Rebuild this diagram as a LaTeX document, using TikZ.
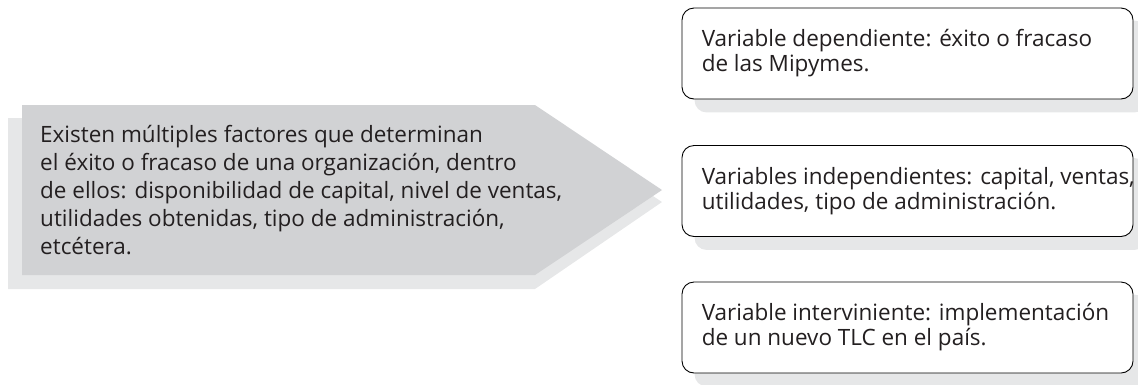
\documentclass[tikz,border=0pt]{standalone}
\usepackage{fontspec}
\setmainfont{Open Sans}
\usetikzlibrary{calc,backgrounds}
\definecolor{arrowgray}{HTML}{D1D2D4}
\definecolor{shadgray}{HTML}{E6E7E8}
\definecolor{txtcol}{HTML}{231F20}
\newlength\myrefw
\AtBeginDocument{%
  \settowidth\myrefw{\fontsize{10pt}{12pt}\selectfont de ellos: disponibilidad de capital, nivel de ventas,}%
  \pgfmathsetmacro\myfsz{10*522/\myrefw}%
}
\tikzset{
  vbox/.style={draw=black, line width=0.9pt, fill=white, rounded corners=12pt,
    minimum width=451pt, minimum height=91pt},
  boxshadow/.style={fill=shadgray, rounded corners=12pt},
  boxtext/.style={anchor=west, align=left, inner sep=0pt,
    font=\fontsize{\myfsz pt}{25pt}\selectfont, text=txtcol},
  bodytext/.style={anchor=west, align=left, inner sep=0pt,
    font=\fontsize{\myfsz pt}{28pt}\selectfont, text=txtcol}
}
\begin{document}
\begin{tikzpicture}[x=1pt,y=-1pt]
\useasboundingbox (0,0) rectangle (1138,384);
% arrow shadow and arrow
\fill[shadgray] (8,118) -- (535,118) -- (662,202) -- (535,289) -- (8,289) -- cycle;
\fill[arrowgray] (22,105) -- (535,105) -- (662,190) -- (535,275) -- (22,275) -- cycle;
\node[bodytext] (factores) at (40,190) {Existen múltiples factores que determinan\\
el éxito o fracaso de una organización, dentro\\
de ellos: disponibilidad de capital, nivel de ventas,\\
utilidades obtenidas, tipo de administración,\\
etcétera.};
% boxes
\node[vbox] (dep) at (907.5,53.5) {};
\node[vbox] (indep) at (907.5,191) {};
\node[vbox] (interv) at (907.5,327.5) {};
\node[boxtext] (deptxt) at ($(dep.west)+(20,0)$) {Variable dependiente: éxito o fracaso\\de las Mipymes.};
\node[boxtext] (indeptxt) at ($(indep.west)+(20,0)$) {Variables independientes: capital, ventas,\\utilidades, tipo de administración.};
\node[boxtext] (intervtxt) at ($(interv.west)+(20,0)$) {Variable interviniente: implementación\\de un nuevo TLC en el país.};
\begin{scope}[on background layer]
\foreach \n in {dep,indep,interv}{
  \fill[boxshadow] ($(\n.north west)+(13,13)$) rectangle ($(\n.south east)+(13,13)$);
}
\end{scope}
\end{tikzpicture}
\end{document}
